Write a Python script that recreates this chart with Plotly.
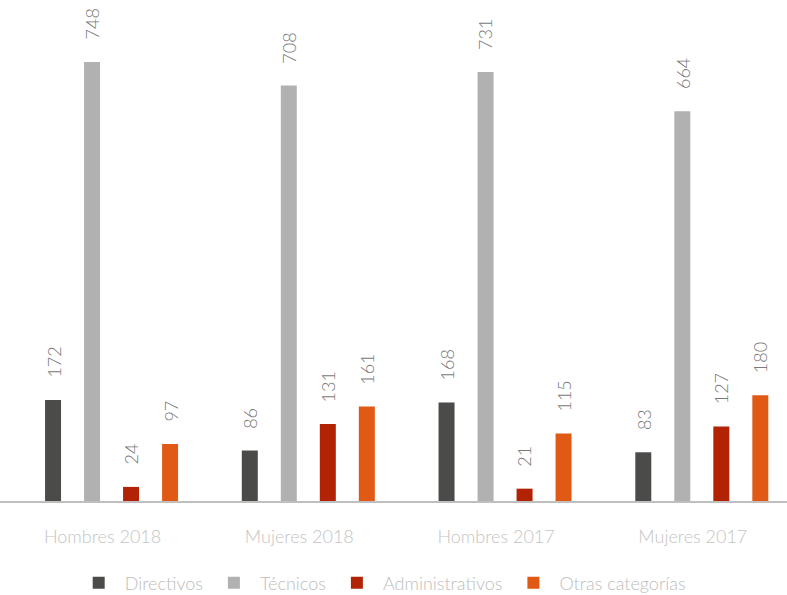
import plotly.graph_objects as go

categories = ["Hombres 2018", "Mujeres 2018", "Hombres 2017", "Mujeres 2017"]
series_names = ["Directivos", "Técnicos", "Administrativos", "Otras categorías"]
directivos = [172, 86, 168, 83]
tecnicos = [748, 708, 731, 664]
administrativos = [24, 131, 21, 127]
otras = [97, 161, 115, 180]
colors = ["#4b4b4a", "#b1b1b1", "#b22205", "#e05a16"]

all_series = [directivos, tecnicos, administrativos, otras]

FONT = "Lato, 'Open Sans', sans-serif"

fig = go.Figure()
for name, vals, col in zip(series_names, all_series, colors):
    fig.add_trace(go.Bar(x=categories, y=vals, name=name, marker_color=col,
                         marker_line_width=0))

slot_px = 39
annotations = []
for i, vals in enumerate(all_series):
    for cat, v in zip(categories, vals):
        annotations.append(dict(
            x=cat, y=v, text=str(v), showarrow=False, textangle=-90,
            xanchor="center", yanchor="bottom", xshift=(i - 1.5) * slot_px,
            yshift=20, font=dict(family=FONT, size=18, color="#7a7a7a", weight=300)))

fig.update_layout(
    width=787, height=595,
    margin=dict(l=0, r=0, t=0, b=94, autoexpand=False),
    paper_bgcolor="white", plot_bgcolor="white",
    barmode="group", bargap=0.207, bargroupgap=0.59,
    showlegend=True,
    legend=dict(orientation="h", x=0.485, xanchor="center", y=-0.164, yanchor="middle",
                font=dict(family=FONT, size=18, color="#bdbdbd", weight=300),
                itemwidth=42, traceorder="normal"),
    annotations=annotations,
    font=dict(family=FONT),
)
fig.update_xaxes(range=[-0.567, 3.433], showline=True, linecolor="#bfbfbf", linewidth=2,
                 showgrid=False, ticks="outside", ticklen=18, tickcolor="rgba(0,0,0,0)",
                 ticklabelshift=-9, automargin=False,
                 tickfont=dict(family=FONT, size=18, color="#c4c4c4", weight=300))
fig.update_yaxes(range=[0, 853.5], showgrid=False, zeroline=False, showticklabels=False,
                 showline=False, automargin=False)

fig.write_html("out.html")
